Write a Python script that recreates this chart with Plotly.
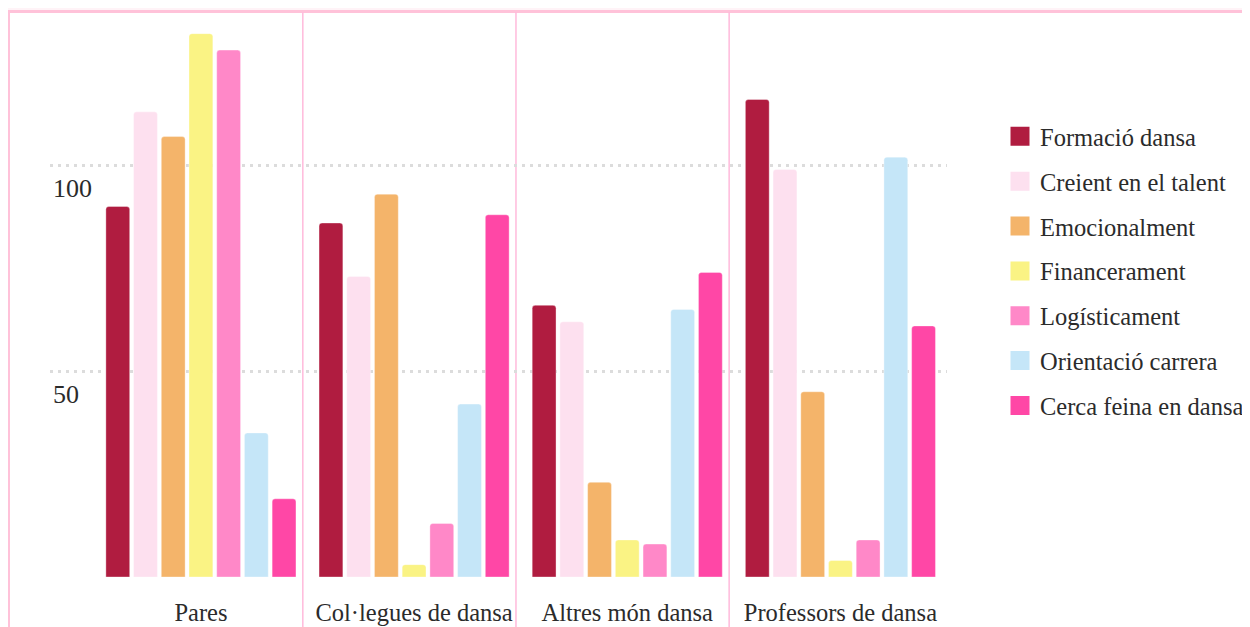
import plotly.graph_objects as go

categories = ["Pares", "Col·legues de dansa", "Altres món dansa", "Professors de dansa"]
series_names = ["Formació dansa", "Creient en el talent", "Emocionalment", "Financerament",
                "Logísticament", "Orientació carrera", "Cerca feina en dansa"]
formacio = [90, 86, 66, 116]
creient = [113, 73, 62, 99]
emocional = [107, 93, 23, 45]
financer = [132, 3, 9, 4]
logistic = [128, 13, 8, 9]
orientacio = [35, 42, 65, 102]
cerca = [19, 88, 74, 61]
series_values = [formacio, creient, emocional, financer, logistic, orientacio, cerca]
colors = ["#b01c40", "#fde0ef", "#f4b46a", "#faf384", "#ff88c8", "#c5e6f8", "#ff47a6"]
y_tickvals = [0, 50, 100]
y_ticktext = ["", "50", "100"]

FONT = "Liberation Serif"
TXT = "#2b2b2b"

fig = go.Figure()
for i, (name, vals, col) in enumerate(zip(series_names, series_values, colors)):
    fig.add_trace(go.Bar(
        x=categories, y=vals, name=name,
        marker=dict(color=col, cornerradius=3, line=dict(color="rgba(255,255,255,0.35)", width=1)),
        showlegend=False, hoverinfo="x+y+name",
    ))
# legend entries
for i, (name, col) in enumerate(zip(series_names, colors)):
    fig.add_trace(go.Scatter(
        x=[None], y=[None], mode="markers", name=name, legendgroup=name,
        marker=dict(symbol="square", size=16, color=col, line=dict(color=col, width=3)),
        showlegend=True,
    ))

# page offset (body margin) compensation: figure px = screen px - OFF
OFF = 8
W, H = 1250, 627
L = 50 - OFF
T = 20 - OFF
R = W - (947 - OFF)
B = H - (577.5 - OFF)
pw, ph = W - L - R, H - T - B

def px_x(p):  # screen px -> paper x
    return (p - OFF - L) / pw

def px_y(p):  # screen px -> paper y
    return (H - B - (p - OFF)) / ph

shapes = [
    dict(type="rect", xref="paper", yref="paper", layer="below",
         x0=px_x(8.5), x1=px_x(1400), y0=px_y(800), y1=px_y(11.5),
         fillcolor="white", line=dict(color="#ffc2d9", width=3)),
]
for i in range(len(categories) - 1):
    xs = i + 0.5 - 0.022
    shapes.append(dict(type="line", xref="x", yref="paper", layer="below",
                       x0=xs, x1=xs, y0=px_y(800), y1=px_y(12),
                       line=dict(color="#ffbadb", width=1.5)))

fig.update_layout(
    width=W, height=H,
    margin=dict(l=L, r=R, t=T, b=B, autoexpand=False),
    paper_bgcolor="#fff3f7",
    plot_bgcolor="rgba(0,0,0,0)",
    font=dict(family=FONT, size=24, color=TXT),
    barmode="group", bargap=0.09, bargroupgap=0.14,
    shapes=shapes,
    showlegend=True,
    legend=dict(x=px_x(1000), y=px_y(114), xanchor="left", yanchor="top",
                font=dict(family=FONT, size=24.5, color=TXT),
                traceorder="grouped", tracegroupgap=10,
                bgcolor="rgba(0,0,0,0)"),
    xaxis=dict(type="category", range=[-0.708, 3.5], showgrid=False, showline=False,
               zeroline=False, ticks="", tickfont=dict(family=FONT, size=24.5, color=TXT),
               ticklabelstandoff=18, automargin=False),
    yaxis=dict(range=[0, ph / 4.12], tickvals=y_tickvals, ticktext=y_ticktext,
               showgrid=True, gridcolor="#dcdcdc", gridwidth=3, griddash="3px,5px",
               zeroline=False, showline=False, ticks="",
               ticklabelposition="inside", ticklabelshift=23, automargin=False,
               tickfont=dict(family=FONT, size=26, color=TXT)),
)

fig.write_html("out.html")
